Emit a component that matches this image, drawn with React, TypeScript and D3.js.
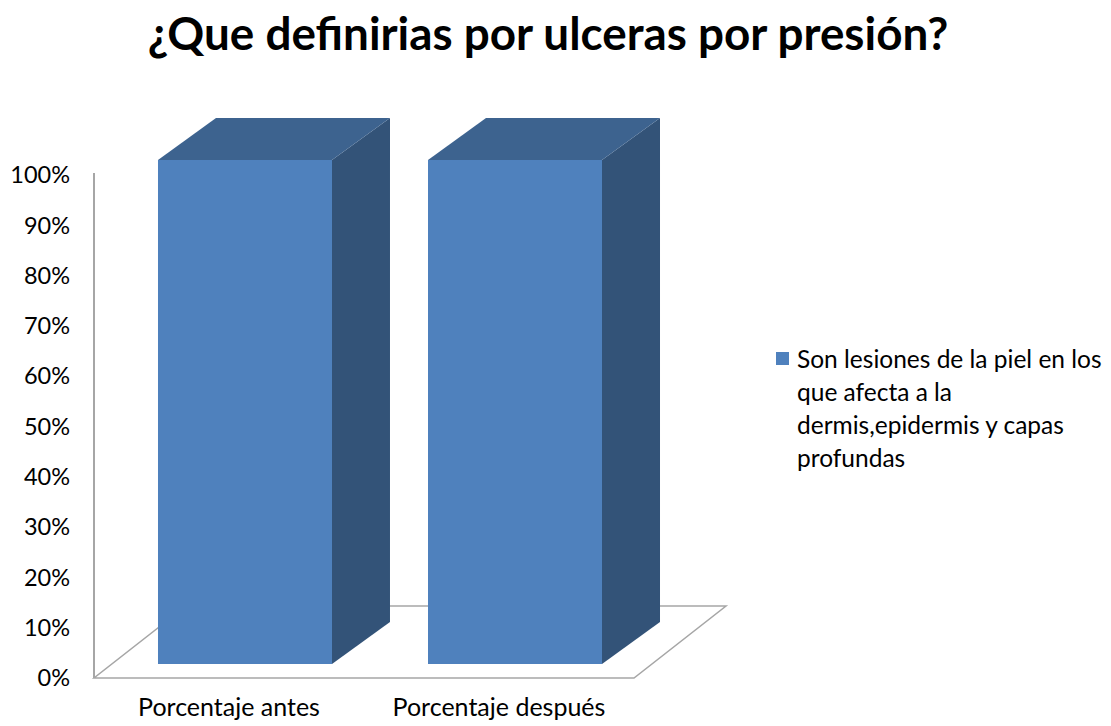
import React from "react";
import * as d3 from "d3";

const title = "¿Que definirias por ulceras por presión?";
const categories = ["Porcentaje antes", "Porcentaje después"];
const values = [1, 1];
const ticks = [0, 0.1, 0.2, 0.3, 0.4, 0.5, 0.6, 0.7, 0.8, 0.9, 1];
const legendLines = [
  "Son lesiones de la piel en los",
  "que afecta a la",
  "dermis,epidermis y capas",
  "profundas",
];

export default function App() {
  const W = 1111, H = 726;
  const font = "Lato, 'Open Sans', sans-serif";
  const x = d3.scaleBand<string>().domain(categories).range([94, 666]).paddingInner(0.3556).paddingOuter(0.237);
  const yBar = d3.scaleLinear().domain([0, 1]).range([664, 160]);
  const yTick = d3.scaleLinear().domain([0, 1]).range([678, 175]);
  const dx = 58, dy = -42;
  const fdx = 92, fdy = -72;
  const floor = [[94, 678], [634, 678], [634 + fdx, 678 + fdy], [94 + fdx, 678 + fdy]];
  return (
    <svg width={W} height={H} style={{ position: "absolute", left: 0, top: 0, background: "#fff" }}>
      <text x={548} y={50} textAnchor="middle" fontFamily={font} fontWeight="bold" fontSize={45.8} fill="#000">{title}</text>
      <polygon points={floor.map(p => p.join(",")).join(" ")} fill="none" stroke="#A6A6A6" strokeWidth={1.5} />
      <line x1={94} x2={94} y1={173} y2={678} stroke="#A6A6A6" strokeWidth={2} />
      {ticks.map(t => (
        <text key={t} x={70} y={yTick(t)} dy="0.35em" textAnchor="end" fontFamily={font} fontSize={23.5} fill="#000">{d3.format(".0%")(t)}</text>
      ))}
      {categories.map((c, i) => {
        const x0 = x(c)!, x1 = x0 + x.bandwidth();
        const yt = yBar(values[i]), yb = yBar(0);
        return (
          <g key={c}>
            <polygon points={`${x1},${yb} ${x1 + dx},${yb + dy} ${x1 + dx},${yt + dy} ${x1},${yt}`} fill="#335378" />
            <polygon points={`${x0},${yt} ${x1},${yt} ${x1 + dx},${yt + dy} ${x0 + dx},${yt + dy}`} fill="#3D638F" />
            <rect x={x0} y={yt} width={x1 - x0} height={yb - yt} fill="#4F81BD" />
            <text x={(x0 + x1) / 2 - 16} y={716} textAnchor="middle" fontFamily={font} fontSize={25} fill="#000">{c}</text>
          </g>
        );
      })}
      <rect x={776} y={352} width={13} height={13} fill="#4F81BD" />
      {legendLines.map((l, i) => (
        <text key={i} x={797} y={368 + i * 33} fontFamily={font} fontSize={24.5} fill="#000">{l}</text>
      ))}
    </svg>
  );
}
